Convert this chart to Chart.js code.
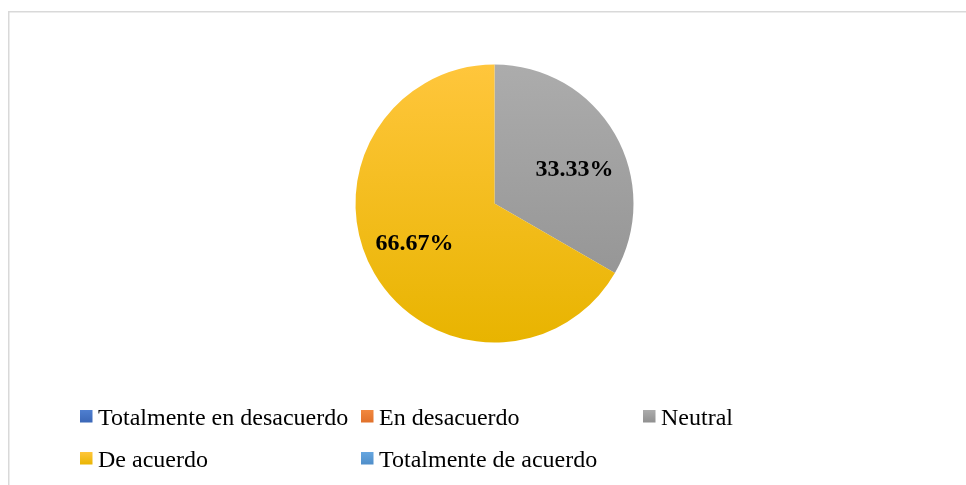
<!DOCTYPE html>
<html>
<head>
<meta charset="utf-8">
<script src="https://cdn.jsdelivr.net/npm/chart.js@4.4.1/dist/chart.umd.min.js"></script>
<style>
  html, body { margin: 0; padding: 0; background: #fff; }
  canvas { display: block; }
</style>
</head>
<body>
<canvas id="canvas" width="966" height="485"></canvas>
<script>
const categories = ['Totalmente en desacuerdo', 'En desacuerdo', 'Neutral', 'De acuerdo', 'Totalmente de acuerdo'];
const values = [0, 0, 33.33, 66.67, 0];
// [top, bottom] of the slight vertical gradient each slice gets
const colors = [
  ['#4f7fd0', '#3a66b6'],
  ['#f2883f', '#e0702a'],
  ['#acacac', '#8f8f8f'],
  ['#ffc63c', '#e8b400'],
  ['#66a6e0', '#4e8dc8'],
];
const serif = "'Times New Roman', 'Liberation Serif', serif";

function sliceFill(ctx) {
  const chart = ctx.chart;
  const area = chart.chartArea;
  if (!area) return colors[ctx.dataIndex][0];
  const c = colors[ctx.dataIndex];
  const g = chart.ctx.createLinearGradient(0, area.top, 0, area.bottom);
  g.addColorStop(0, c[0]);
  g.addColorStop(1, c[1]);
  return g;
}

const frame = {
  id: 'frame',
  beforeDraw(chart) {
    const c = chart.ctx;
    c.save();
    c.fillStyle = '#d9d9d9';
    c.fillRect(8, 11, chart.width, 1.5);
    c.fillRect(8, 11, 1.5, chart.height);
    c.restore();
  }
};

const sliceLabels = {
  id: 'sliceLabels',
  afterDatasetsDraw(chart) {
    const c = chart.ctx;
    const meta = chart.getDatasetMeta(0);
    c.save();
    c.font = 'bold 24px ' + serif;
    c.fillStyle = '#000';
    c.textAlign = 'center';
    c.textBaseline = 'middle';
    meta.data.forEach((arc, i) => {
      const v = values[i];
      if (!v) return;
      const p = arc.getProps(['x', 'y', 'startAngle', 'endAngle', 'outerRadius']);
      const mid = (p.startAngle + p.endAngle) / 2 + 0.09;
      const r = p.outerRadius * 0.635;
      c.fillText(v.toFixed(2) + '%', p.x + Math.cos(mid) * r, p.y + Math.sin(mid) * r + 3);
    });
    c.restore();
  }
};

const gridLegend = {
  id: 'gridLegend',
  afterDraw(chart) {
    const c = chart.ctx;
    const cols = [80, 361, 643];
    const rows = [425, 467];
    c.save();
    c.font = '24px ' + serif;
    c.textBaseline = 'alphabetic';
    chart.data.labels.forEach((label, i) => {
      const x = cols[i % 3];
      const y = rows[Math.floor(i / 3)];
      const g = c.createLinearGradient(0, y - 15, 0, y - 2);
      g.addColorStop(0, colors[i][0]);
      g.addColorStop(1, colors[i][1]);
      c.fillStyle = g;
      c.fillRect(x, y - 15, 12.5, 12.5);
      c.fillStyle = '#000';
      c.fillText(label, x + 18, y);
    });
    c.restore();
  }
};

const data = {
  labels: categories,
  datasets: [{
    data: values,
    backgroundColor: sliceFill,
    borderWidth: 0,
  }]
};

const config = {
  type: 'pie',
  data: data,
  options: {
    responsive: false,
    animation: false,
    layout: { padding: { top: 64.5, bottom: 142.5, left: 200, right: 177 } },
    plugins: {
      legend: { display: false },
      tooltip: { enabled: false },
    }
  },
  plugins: [frame, sliceLabels, gridLegend]
};

const canvas = document.getElementById('canvas');
const chart = new Chart(canvas, config);
</script>
</body>
</html>
